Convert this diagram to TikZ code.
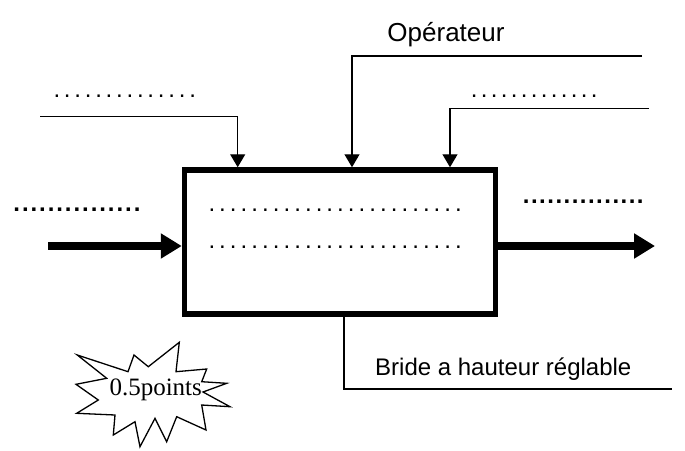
\documentclass[tikz,border=0pt]{standalone}
\usepackage{fontspec}
\setmainfont{Liberation Sans}
\newfontfamily\policeserif{Liberation Serif}
\usetikzlibrary{arrows.meta, positioning, calc}
% rangée de points (largeur totale, pas)
\newcommand{\pointilles}[2]{\makebox[#1]{\xleaders\hbox to #2{\hss.\hss}\hfill}}
\tikzset{
  boite/.style={rectangle, draw, line width=5.5pt,
    minimum width=311pt, minimum height=144pt, inner sep=0pt},
  fleche/.style={-{Triangle[width=15pt,length=13pt]}, line width=1.3pt},
  grossefleche/.style={-{Triangle[width=24pt,length=21pt]}, line width=8pt},
  trait/.style={line width=1.2pt},
  texte/.style={font=\fontsize{24}{28}\selectfont, inner sep=0pt},
  points/.style={font=\fontsize{24}{28}\selectfont, inner sep=0pt, anchor=west}
}
\begin{document}
\begin{tikzpicture}[x=1pt, y=-1pt]
  \useasboundingbox (0,0) rectangle (685,450);

  % --- Boite principale ---
  \node[boite] (boite) at (340,242) {};
  \node[points] (interieur1) at (206.3,210) {\pointilles{257.3pt}{10.72pt}};
  \node[points] (interieur2) at (206.3,247.7) {\pointilles{257.3pt}{10.72pt}};

  % --- Entree / sortie ---
  \coordinate (entree) at (48,246);
  \coordinate (sortie) at (655,246);
  \node[points, font=\fontsize{24}{28}\selectfont\bfseries] (ptsentree) at (12,209.3)
    {\pointilles{129.4pt}{8.09pt}};
  \node[points, font=\fontsize{24}{28}\selectfont\bfseries] (ptssortie) at (522,201.7)
    {\pointilles{122.1pt}{8.14pt}};
  \draw[grossefleche] (entree) -- (entree -| boite.west);
  \draw[grossefleche] (sortie -| boite.east) -- (sortie);

  % --- Controles ---
  \coordinate (ctrl1) at (40,116.7);
  \coordinate (ctrl2) at (642,56);
  \coordinate (ctrl3) at (649,108.3);
  \node[points] (ptsctrl1) at (51.1,96.7) {\pointilles{146.8pt}{9.79pt}};
  \node[points] (ptsctrl3) at (469,96.7) {\pointilles{130pt}{10pt}};
  \node[texte, font=\fontsize{26}{30}\selectfont, anchor=base] (operateur) at (446,41) {Opérateur};
  \draw[fleche] (ctrl1) -| ([xshift=-102.3pt]boite.north);
  \draw[fleche] (ctrl2) -| ([xshift=12pt]boite.north);
  \draw[fleche] (ctrl3) -| ([xshift=110pt]boite.north);

  % --- Mecanisme ---
  \coordinate (meca) at (672,389);
  \node[texte, anchor=base west] (bride) at (375,375) {Bride a hauteur réglable};
  \draw[trait] ([xshift=4pt]boite.south) |- (meca);

  % --- Etoile ---
  \draw[line width=1.3pt, fill=white] (77.3,355) -- (128,371.7) -- (134,355) -- (148.3,366.7)
    -- (179.3,342.3) -- (176,371.7) -- (206.7,369) -- (201.7,381.7) -- (226.7,383.3)
    -- (203,392) -- (230,406.7) -- (201.7,405) -- (206,430) -- (176.7,416.7)
    -- (166.7,441.7) -- (155,418.3) -- (140,446.7) -- (135,421.7) -- (113.3,435)
    -- (115,415) -- (76.7,413.3) -- (98.3,400) -- (76,384.3) -- (106.7,378.3) -- cycle;
  \node[texte, font=\policeserif\fontsize{25}{28}\selectfont, anchor=base] (bonus) at (155.7,395) {0.5points};

\end{tikzpicture}
\end{document}
